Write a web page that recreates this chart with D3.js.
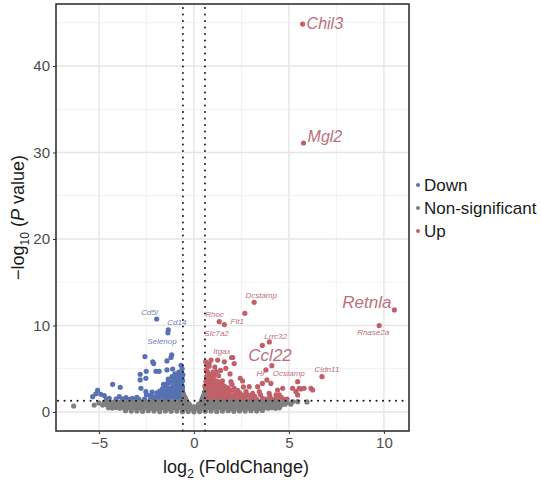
<!DOCTYPE html>
<html>
<head>
<meta charset="utf-8">
<script src="https://cdn.jsdelivr.net/npm/d3@7"></script>
<style>
  body { margin: 0; background: #fff; }
  text { font-family: "Liberation Sans", Arial, sans-serif; }
</style>
</head>
<body>
<div id="chart"></div>
<script>
// ---- data (log2 fold change, -log10 p) ----
const downPoints = [
  [-2.58,6.4],[-1.17,6.6],[-1.42,5.9],[-2.12,5.6],[-0.68,5.4],[-2.51,4.7],[-2.0,4.7],[-1.83,4.7],
  [-1.42,4.86],[-1.12,4.97],[-2.83,4.36],[-2.53,3.9],[-2.83,3.7],[-4.28,3.2],[-3.88,2.86],[-5.07,2.5],
  [-4.9,2.05],[-4.72,1.9],[-5.33,1.77],[-2.79,2.74],[-2.53,2.35],[-1.6,3.2],[-0.95,3.9],[-3.93,1.77],
  [-3.58,1.66],[-3.23,1.58],[-4.46,1.58],[-5.16,2.1],[-2.3,1.5],[-2.6,1.5],[-2.9,1.45],[-4.1,1.5],
  [-2.5,2.0],[-2.2,1.8],[-2.2,2.3],[-1.21,6.3],[-2.17,5.8],
  [-0.6,1.5],[-0.6,2.0],[-0.62,2.6],[-0.65,3.2],[-0.7,1.4],[-0.75,1.8],[-0.8,2.3],[-0.82,2.9],
  [-0.85,3.5],[-0.9,1.5],[-0.95,2.0],[-1.0,2.6],[-1.0,3.1],[-1.05,1.4],[-1.1,1.8],[-1.15,2.3],
  [-1.2,2.8],[-1.25,3.4],[-1.3,1.5],[-1.35,2.0],[-1.4,2.5],[-1.45,3.0],[-1.5,1.4],[-1.55,1.8],
  [-1.6,2.2],[-1.65,2.7],[-1.7,1.5],[-1.75,1.9],[-1.8,2.4],[-1.85,1.45],[-1.9,1.8],[-2.0,1.5],
  [-2.1,1.4],[-0.7,3.8],[-0.9,4.1],[-1.1,3.6],[-0.58,4.3],[-0.65,2.3],[-0.75,2.7],[-0.88,2.4],
  [-1.3,2.6],[-1.2,1.9],[-1.45,1.6],[-1.0,4.4],[-0.8,4.6],[-1.35,3.8],[-0.6,3.6],[-0.62,5.0],
  [-0.6,2.4],[-0.6,2.9],[-0.63,3.9],[-0.68,4.6],[-0.72,2.1],[-0.78,3.3],[-0.85,1.7],[-0.9,2.7],
  [-0.95,3.3],[-1.05,2.2],[-1.1,2.9],[-1.15,1.6],[-1.25,2.2],[-1.35,1.7],[-1.4,3.3],[-1.55,2.4],
  [-1.6,1.6],[-1.7,2.1],[-1.8,1.7],[-1.95,2.2],[-2.05,1.7],[-0.75,4.2],[-1.15,4.1],[-2.3,1.9],
  [-3.0,1.7],[-3.4,1.45],[-3.75,1.5],[-4.6,1.45]
];

const upPoints = [
  [2.04,6.3],[1.6,5.8],[1.25,6.0],[0.9,6.0],[0.8,5.6],[2.12,5.6],[1.68,5.05],[1.16,4.66],
  [2.44,3.9],[2.56,3.58],[1.95,3.5],[2.91,2.93],[2.12,2.74],[2.74,2.35],[3.35,2.93],[2.47,2.05],
  [3.84,3.7],[4.05,3.3],[3.6,3.3],[5.46,3.5],[5.54,2.74],[5.19,2.74],[5.8,2.74],[5.37,2.35],
  [5.46,1.97],[6.16,2.74],[4.4,2.54],[4.67,2.74],[4.32,1.97],[3.44,2.35],[3.96,2.16],[3.09,2.16],
  [4.49,1.97],[6.25,2.54],[5.63,2.66],
  [0.6,1.5],[0.62,2.0],[0.65,2.6],[0.68,3.2],[0.7,3.8],[0.72,4.4],[0.75,1.4],[0.8,1.8],
  [0.85,2.3],[0.88,2.9],[0.9,3.5],[0.95,4.1],[1.0,1.5],[1.05,2.0],[1.1,2.5],[1.12,3.0],
  [1.15,3.6],[1.2,1.4],[1.25,1.9],[1.3,2.4],[1.35,2.9],[1.4,3.4],[1.45,1.5],[1.5,2.0],
  [1.55,2.5],[1.6,3.0],[1.65,1.4],[1.7,1.8],[1.75,2.3],[1.8,1.5],[1.9,1.9],[2.0,1.4],
  [2.1,1.7],[2.2,2.1],[2.3,1.5],[2.5,1.45],[2.7,1.6],[2.9,1.4],[3.1,1.55],[3.3,1.45],
  [3.6,1.6],[3.8,1.5],[4.1,1.45],[4.4,1.55],[4.7,1.5],[0.65,4.9],[0.8,5.3],[1.0,4.6],
  [1.3,4.2],[0.62,5.8],[0.7,1.6],[0.9,2.2],[1.2,3.2],[1.0,3.8],[1.5,3.6],[1.8,2.8],
  [2.0,3.2],[1.4,1.6],[2.3,2.5],[0.58,3.0],[2.6,2.9],[3.0,1.9],[2.4,1.8],[1.9,4.4],
  [0.6,2.3],[0.6,2.8],[0.63,3.5],[0.66,4.1],[0.7,4.7],[0.75,2.1],[0.78,2.6],[0.8,3.1],
  [0.82,3.7],[0.85,4.3],[0.9,1.6],[0.95,2.6],[0.98,3.2],[1.05,4.2],[1.1,1.7],[1.15,2.2],
  [1.2,2.7],[1.25,3.5],[1.3,1.6],[1.35,2.1],[1.45,2.7],[1.5,3.1],[1.55,1.7],[1.6,2.3],
  [1.7,2.6],[1.85,2.1],[1.95,2.5],[2.05,1.9],[2.15,2.4],[2.25,1.8],[2.4,2.2],[2.6,1.9],
  [2.8,2.0],[3.2,1.8],[3.5,2.0],[4.0,1.8],[4.3,1.5],[4.6,1.7],[4.9,1.5],[1.1,5.2],
  [0.7,5.4],[1.4,4.8]
];

const nsPoints = [
  // upper row
  [-4.7,1.15],[-4.5,1.2],[-4.3,1.1],[-4.1,1.22],[-3.9,1.12],[-3.7,1.2],[-3.5,1.08],[-3.3,1.18],
  [-3.1,1.24],[-2.9,1.1],[-2.7,1.2],[-2.5,1.15],[-2.3,1.22],[-2.1,1.1],[-1.9,1.2],[-1.7,1.25],
  [-1.5,1.12],[-1.3,1.2],[-1.1,1.24],[-0.9,1.15],[-0.7,1.22],[-0.5,1.3],[0.5,1.28],[0.7,1.2],
  [0.9,1.25],[1.1,1.12],[1.3,1.2],[1.5,1.24],[1.7,1.1],[1.9,1.2],[2.1,1.22],[2.3,1.12],
  [2.5,1.2],[2.7,1.15],[2.9,1.24],[3.1,1.1],[3.3,1.2],[3.5,1.18],[3.7,1.1],[3.9,1.22],
  [4.1,1.15],[4.3,1.2],[4.5,1.1],[4.7,1.18],[4.9,1.1],
  // second row
  [-4.8,0.8],[-4.6,0.85],[-4.4,0.75],[-4.2,0.9],[-4.0,0.8],[-3.8,0.85],[-3.6,0.78],[-3.4,0.88],
  [-3.2,0.8],[-3.0,0.86],[-2.8,0.76],[-2.6,0.9],[-2.4,0.82],[-2.2,0.78],[-2.0,0.88],[-1.8,0.8],
  [-1.6,0.86],[-1.4,0.76],[-1.2,0.9],[-1.0,0.82],[-0.8,0.8],[-0.6,0.88],[-0.4,0.8],[-0.2,0.7],
  [0.0,0.6],[0.2,0.72],[0.4,0.85],[0.6,0.8],[0.8,0.9],[1.0,0.78],[1.2,0.86],[1.4,0.8],
  [1.6,0.9],[1.8,0.76],[2.0,0.85],[2.2,0.8],[2.4,0.88],[2.6,0.78],[2.8,0.85],[3.0,0.8],
  [3.2,0.9],[3.4,0.76],[3.6,0.85],[3.8,0.8],[4.0,0.88],[4.2,0.78],[4.4,0.85],[4.6,0.8],[4.8,0.9],
  // third row
  [-4.5,0.5],[-4.3,0.45],[-4.1,0.52],[-3.9,0.42],[-3.7,0.48],[-3.5,0.5],[-3.3,0.4],[-3.1,0.5],
  [-2.9,0.45],[-2.7,0.4],[-2.5,0.5],[-2.3,0.42],[-2.1,0.48],[-1.9,0.4],[-1.7,0.5],[-1.5,0.44],
  [-1.3,0.4],[-1.1,0.5],[-0.9,0.42],[-0.7,0.48],[-0.5,0.4],[-0.3,0.45],[-0.1,0.35],[0.1,0.4],
  [0.3,0.48],[0.5,0.42],[0.7,0.5],[0.9,0.4],[1.1,0.46],[1.3,0.5],[1.5,0.42],[1.7,0.48],
  [1.9,0.4],[2.1,0.5],[2.3,0.44],[2.5,0.4],[2.7,0.5],[2.9,0.45],[3.1,0.42],[3.3,0.5],
  [3.5,0.4],[3.7,0.48],[3.9,0.44],[4.1,0.5],[4.3,0.42],[4.5,0.48],
  // bottom row
  [-3.6,0.15],[-3.3,0.1],[-3.0,0.12],[-2.7,0.08],[-2.4,0.14],[-2.1,0.1],[-1.8,0.05],[-1.5,0.12],
  [-1.2,0.08],[-0.9,0.1],[-0.6,0.04],[-0.3,0.06],[0.0,0.02],[0.3,0.05],[0.6,0.08],[0.9,0.12],
  [1.2,0.06],[1.5,0.1],[1.8,0.14],[2.1,0.08],[2.4,0.12],[2.7,0.1],[3.0,0.15],[3.3,0.1],[3.6,0.18],
  // between the fold-change cut-offs
  [-0.52,1.5],[-0.5,1.8],[-0.55,2.1],[-0.45,1.6],[-0.4,1.35],[-0.35,1.1],[-0.25,0.9],
  [0.52,1.5],[0.5,1.9],[0.55,2.3],[0.45,1.6],[0.4,1.3],[0.35,1.05],[0.25,0.9],
  // stragglers
  [-6.33,0.69],[-5.25,0.8],[-5.0,1.05],[5.1,0.9],[5.46,1.19],[5.95,1.16],[5.2,1.2]
];

const geneNames = ["Chil3","Mgl2","Retnla","Rnase2a","Dcstamp","Flt1","Rhoc","Slc7a2","Lrrc32","Itgax","Ccl22","Hr","Ocstamp","Cldn11","Cd5l","Cd14","Selenop"];
const geneFC    = [5.72, 5.77, 10.55, 9.75, 3.17, 2.68, 1.33, 1.6, 3.97, 1.98, 3.6, 3.79, 4.1, 6.74, -1.96, -1.35, -1.37];
const geneP     = [44.85, 31.1, 11.8, 10.0, 12.68, 11.4, 10.44, 10.1, 8.1, 6.3, 7.7, 4.86, 5.35, 4.08, 10.75, 9.5, 9.15];
const geneGroup = ["Up","Up","Up","Up","Up","Up","Up","Up","Up","Up","Up","Up","Up","Up","Down","Down","Down"];

const groups = ["Down", "Non-significant", "Up"];
const xTicks = [-5, 0, 5, 10];
const yTicks = [0, 10, 20, 30, 40];
const fcCut = 0.58;
const pCut = 1.3;

// ---- layout ----
const width = 541, height = 485;
const panel = { left: 56, right: 409, top: 4, bottom: 431 };

const colors = { "Down": "#5672b4", "Non-significant": "#7f7f7f", "Up": "#c2606a" };
const labelColors = { "Down": "#6f82b8", "Up": "#bd6f7b" };

const svg = d3.select("#chart").append("svg")
  .attr("width", width)
  .attr("height", height);

svg.append("rect").attr("width", width).attr("height", height).attr("fill", "#fff");

const xScale = d3.scaleLinear().domain([-7.26, 11.32]).range([panel.left, panel.right]);
const yScale = d3.scaleLinear().domain([-2.2, 47.17]).range([panel.bottom, panel.top]);

// grid lines (major + minor)
const grid = svg.append("g");
const xMinor = [-2.5, 2.5, 7.5];
const yMinor = [5, 15, 25, 35, 45];
grid.selectAll(".vminor").data(xMinor).enter().append("line")
  .attr("x1", d => xScale(d)).attr("x2", d => xScale(d))
  .attr("y1", panel.top).attr("y2", panel.bottom)
  .attr("stroke", "#eeeeee").attr("stroke-width", 0.8);
grid.selectAll(".hminor").data(yMinor).enter().append("line")
  .attr("x1", panel.left).attr("x2", panel.right)
  .attr("y1", d => yScale(d)).attr("y2", d => yScale(d))
  .attr("stroke", "#eeeeee").attr("stroke-width", 0.8);
grid.selectAll(".vmajor").data(xTicks).enter().append("line")
  .attr("x1", d => xScale(d)).attr("x2", d => xScale(d))
  .attr("y1", panel.top).attr("y2", panel.bottom)
  .attr("stroke", "#e6e6e6").attr("stroke-width", 1.4);
grid.selectAll(".hmajor").data(yTicks).enter().append("line")
  .attr("x1", panel.left).attr("x2", panel.right)
  .attr("y1", d => yScale(d)).attr("y2", d => yScale(d))
  .attr("stroke", "#e6e6e6").attr("stroke-width", 1.4);

// points
const radius = 2.6;
function drawPoints(data, group) {
  svg.append("g").selectAll("circle")
    .data(data)
    .enter()
    .append("circle")
    .attr("cx", d => xScale(d[0]))
    .attr("cy", d => yScale(d[1]))
    .attr("r", radius)
    .attr("fill", colors[group]);
}
drawPoints(downPoints, "Down");
drawPoints(upPoints, "Up");
drawPoints(nsPoints, "Non-significant");

// labelled genes
const genes = geneNames.map((n, i) => ({ name: n, x: geneFC[i], y: geneP[i], group: geneGroup[i] }));
svg.append("g").selectAll("circle")
  .data(genes)
  .enter()
  .append("circle")
  .attr("cx", d => xScale(d.x))
  .attr("cy", d => yScale(d.y))
  .attr("r", radius)
  .attr("fill", d => colors[d.group]);

// threshold lines
const dotted = svg.append("g")
  .attr("stroke", "#1a1a1a")
  .attr("stroke-width", 2)
  .attr("stroke-linecap", "round")
  .attr("stroke-dasharray", "0.1,6.4");
[-fcCut, fcCut].forEach(v => {
  dotted.append("line")
    .attr("x1", xScale(v)).attr("x2", xScale(v))
    .attr("y1", panel.top + 4).attr("y2", panel.bottom);
});
dotted.append("line")
  .attr("x1", panel.left + 2).attr("x2", panel.right)
  .attr("y1", yScale(pCut)).attr("y2", yScale(pCut));

// gene labels: [dx, dy, anchor, size]
const labelStyle = {
  "Chil3":   [4, 5, "start", 16],
  "Mgl2":    [4, -1, "start", 16],
  "Retnla":  [-3, -2, "end", 17],
  "Rnase2a": [-6, 10, "middle", 8],
  "Dcstamp": [7, -4, "middle", 8],
  "Flt1":    [-1, 11, "end", 8],
  "Rhoc":    [-14, -5, "start", 8],
  "Slc7a2":  [-20, 11, "start", 8],
  "Lrrc32":  [-5, -3, "start", 8],
  "Itgax":   [-1, -3, "end", 8],
  "Ccl22":   [-14, 16, "start", 17],
  "Hr":      [-1, 6, "end", 8],
  "Ocstamp": [1, 10, "start", 8],
  "Cldn11":  [5, -5, "middle", 8],
  "Cd5l":    [1, -4, "end", 8],
  "Cd14":    [-1, -5, "start", 8],
  "Selenop": [-6, 11, "middle", 8]
};
svg.append("g").selectAll("text")
  .data(genes)
  .enter()
  .append("text")
  .attr("x", d => xScale(d.x) + labelStyle[d.name][0])
  .attr("y", d => yScale(d.y) + labelStyle[d.name][1])
  .attr("text-anchor", d => labelStyle[d.name][2])
  .attr("font-size", d => labelStyle[d.name][3])
  .attr("font-style", "italic")
  .attr("fill", d => labelColors[d.group])
  .text(d => d.name);

// panel border
svg.append("rect")
  .attr("x", panel.left).attr("y", panel.top)
  .attr("width", panel.right - panel.left).attr("height", panel.bottom - panel.top)
  .attr("fill", "none").attr("stroke", "#333").attr("stroke-width", 1.6);

// axes
const xAxis = svg.append("g")
  .attr("transform", `translate(0,${panel.bottom})`)
  .call(d3.axisBottom(xScale).tickValues(xTicks).tickSize(3).tickPadding(3).tickFormat(d => d < 0 ? "\u2212" + Math.abs(d) : d));
const yAxis = svg.append("g")
  .attr("transform", `translate(${panel.left},0)`)
  .call(d3.axisLeft(yScale).tickValues(yTicks).tickSize(3).tickPadding(3));
[xAxis, yAxis].forEach(a => {
  a.select(".domain").remove();
  a.selectAll(".tick line").attr("stroke", "#333");
  a.selectAll(".tick text").attr("fill", "#4d4d4d").attr("font-size", 15)
    .attr("font-family", "'Liberation Sans', Arial, sans-serif");
});

// axis titles
const xt = svg.append("text")
  .attr("x", 236).attr("y", 473)
  .attr("text-anchor", "middle")
  .attr("font-size", 18).attr("fill", "#1a1a1a");
xt.append("tspan").text("log");
xt.append("tspan").attr("font-size", 12).attr("dy", 5).text("2");
xt.append("tspan").attr("dy", -5).text(" (FoldChange)");

const yt = svg.append("text")
  .attr("transform", `translate(24,${(panel.top + panel.bottom) / 2}) rotate(-90)`)
  .attr("text-anchor", "middle")
  .attr("font-size", 18).attr("fill", "#1a1a1a");
yt.append("tspan").text("\u2212log");
yt.append("tspan").attr("font-size", 12).attr("dy", 5).text("10");
yt.append("tspan").attr("dy", -5).text(" (");
yt.append("tspan").attr("font-style", "italic").text("P");
yt.append("tspan").text(" value)");

// legend
const legend = svg.append("g").attr("transform", "translate(418,185)");
groups.forEach((g, i) => {
  legend.append("circle").attr("cx", 0).attr("cy", i * 23).attr("r", 2).attr("fill", colors[g]);
  legend.append("text").attr("x", 6).attr("y", i * 23 + 6)
    .attr("font-size", 17).attr("fill", "#1a1a1a").text(g);
});
</script>
</body>
</html>
